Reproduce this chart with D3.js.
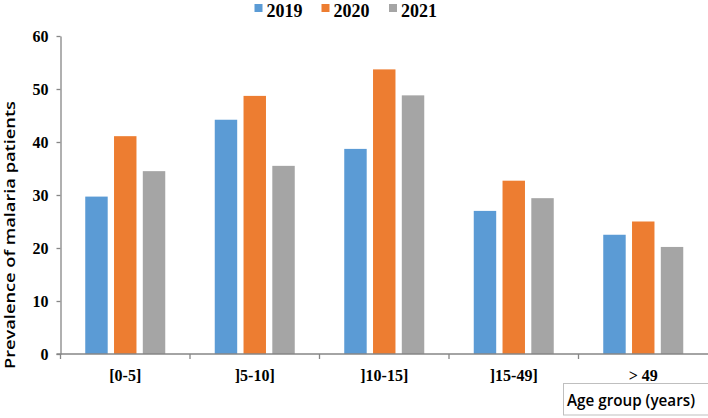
<!DOCTYPE html>
<html>
<head>
<meta charset="utf-8">
<script src="https://cdn.jsdelivr.net/npm/d3@7"></script>
<style>
  body { margin: 0; background: #fff; }
  svg { display: block; }
</style>
</head>
<body>
<div id="chart"></div>
<script>
const categories = ['[0-5]', ']5-10]', ']10-15]', ']15-49]', '> 49'];
const years = ['2019', '2020', '2021'];
const values2019 = [29.7, 44.2, 38.7, 27.0, 22.5];
const values2020 = [41.1, 48.7, 53.7, 32.7, 25.0];
const values2021 = [34.5, 35.5, 48.8, 29.4, 20.2];
const yTicks = [0, 10, 20, 30, 40, 50, 60];
const colors = ['#5b9bd5', '#ed7d31', '#a5a5a5'];

const series = [values2019, values2020, values2021];
const width = 708, height = 418;
const margin = { left: 60.5, right: 0, top: 36, bottom: 64 };
const axisColor = '#868686';

const svg = d3.select('#chart')
  .append('svg')
  .attr('width', width)
  .attr('height', height);

const x0 = d3.scaleBand()
  .domain(categories)
  .range([margin.left, width - margin.right]);

const x1 = d3.scaleBand()
  .domain(years)
  .range([x0.bandwidth() / 2 - 40, x0.bandwidth() / 2 + 40])
  .paddingInner(0.22);

const y = d3.scaleLinear()
  .domain([0, 60])
  .range([height - margin.bottom, margin.top]);

// bars
const groups = svg.append('g')
  .selectAll('g')
  .data(categories)
  .enter()
  .append('g')
  .attr('transform', function (d) {
    return 'translate(' + x0(d) + ',0)';
  });

groups.selectAll('rect')
  .data(function (d, i) {
    return years.map(function (yr, j) {
      return { year: yr, value: series[j][i], color: colors[j] };
    });
  })
  .enter()
  .append('rect')
  .attr('x', function (d) { return x1(d.year); })
  .attr('y', function (d) { return y(d.value); })
  .attr('width', x1.bandwidth())
  .attr('height', function (d) { return y(0) - y(d.value); })
  .style('fill', function (d) { return d.color; });

// y axis
const yAxis = svg.append('g')
  .attr('transform', 'translate(' + margin.left + ',0)')
  .call(d3.axisLeft(y).tickValues(yTicks).tickSize(4).tickSizeOuter(0).tickPadding(8));

yAxis.selectAll('line, path').attr('stroke', axisColor).attr('stroke-width', 1.3);
yAxis.selectAll('text')
  .style('font-family', '"Liberation Serif", serif')
  .style('font-weight', 'bold')
  .style('font-size', '16px')
  .attr('fill', '#000');

// x axis
const xAxis = svg.append('g');
xAxis.append('line')
  .attr('x1', margin.left - 4)
  .attr('x2', width)
  .attr('y1', y(0))
  .attr('y2', y(0))
  .attr('stroke', axisColor)
  .attr('stroke-width', 1.3);

xAxis.selectAll('.tick')
  .data(categories)
  .enter()
  .append('line')
  .attr('x1', function (d) { return x0(d); })
  .attr('x2', function (d) { return x0(d); })
  .attr('y1', y(0))
  .attr('y2', y(0) + 5)
  .attr('stroke', axisColor)
  .attr('stroke-width', 1.3);

xAxis.selectAll('text')
  .data(categories)
  .enter()
  .append('text')
  .attr('x', function (d) { return x0(d) + x0.bandwidth() / 2; })
  .attr('y', y(0) + 27)
  .attr('text-anchor', 'middle')
  .style('font-family', '"Liberation Serif", serif')
  .style('font-weight', 'bold')
  .style('font-size', '16px')
  .text(function (d) { return d; });

// y axis title
svg.append('text')
  .attr('transform', 'translate(15,' + ((100 + 370) / 2) + ') rotate(-90)')
  .attr('text-anchor', 'middle')
  .attr('textLength', 268)
  .attr('lengthAdjust', 'spacingAndGlyphs')
  .style('font-family', '"Open Sans", sans-serif')
  .style('font-weight', '600')
  .style('font-size', '15px')
  .text('Prevalence of malaria patients');

// x axis title box
svg.append('rect')
  .attr('x', 563.5)
  .attr('y', 383.5)
  .attr('width', 150)
  .attr('height', 31.5)
  .attr('fill', '#fff')
  .attr('stroke', '#bfbfbf')
  .attr('stroke-width', 1);

svg.append('text')
  .attr('x', 567)
  .attr('y', 406)
  .attr('textLength', 128)
  .attr('lengthAdjust', 'spacingAndGlyphs')
  .style('font-family', '"Open Sans", sans-serif')
  .style('font-weight', '600')
  .style('font-size', '16.5px')
  .text('Age group (years)');

// legend
const legendX = [254.5, 321.5, 389];
const legend = svg.append('g')
  .selectAll('g')
  .data(years)
  .enter()
  .append('g')
  .attr('transform', function (d, i) {
    return 'translate(' + legendX[i] + ',0)';
  });

legend.append('rect')
  .attr('x', 0)
  .attr('y', 4)
  .attr('width', 8)
  .attr('height', 8)
  .style('fill', function (d, i) { return colors[i]; });

legend.append('text')
  .attr('x', 12)
  .attr('y', 17)
  .style('font-family', '"Liberation Serif", serif')
  .style('font-weight', 'bold')
  .style('font-size', '18px')
  .text(function (d) { return d; });
</script>
</body>
</html>
